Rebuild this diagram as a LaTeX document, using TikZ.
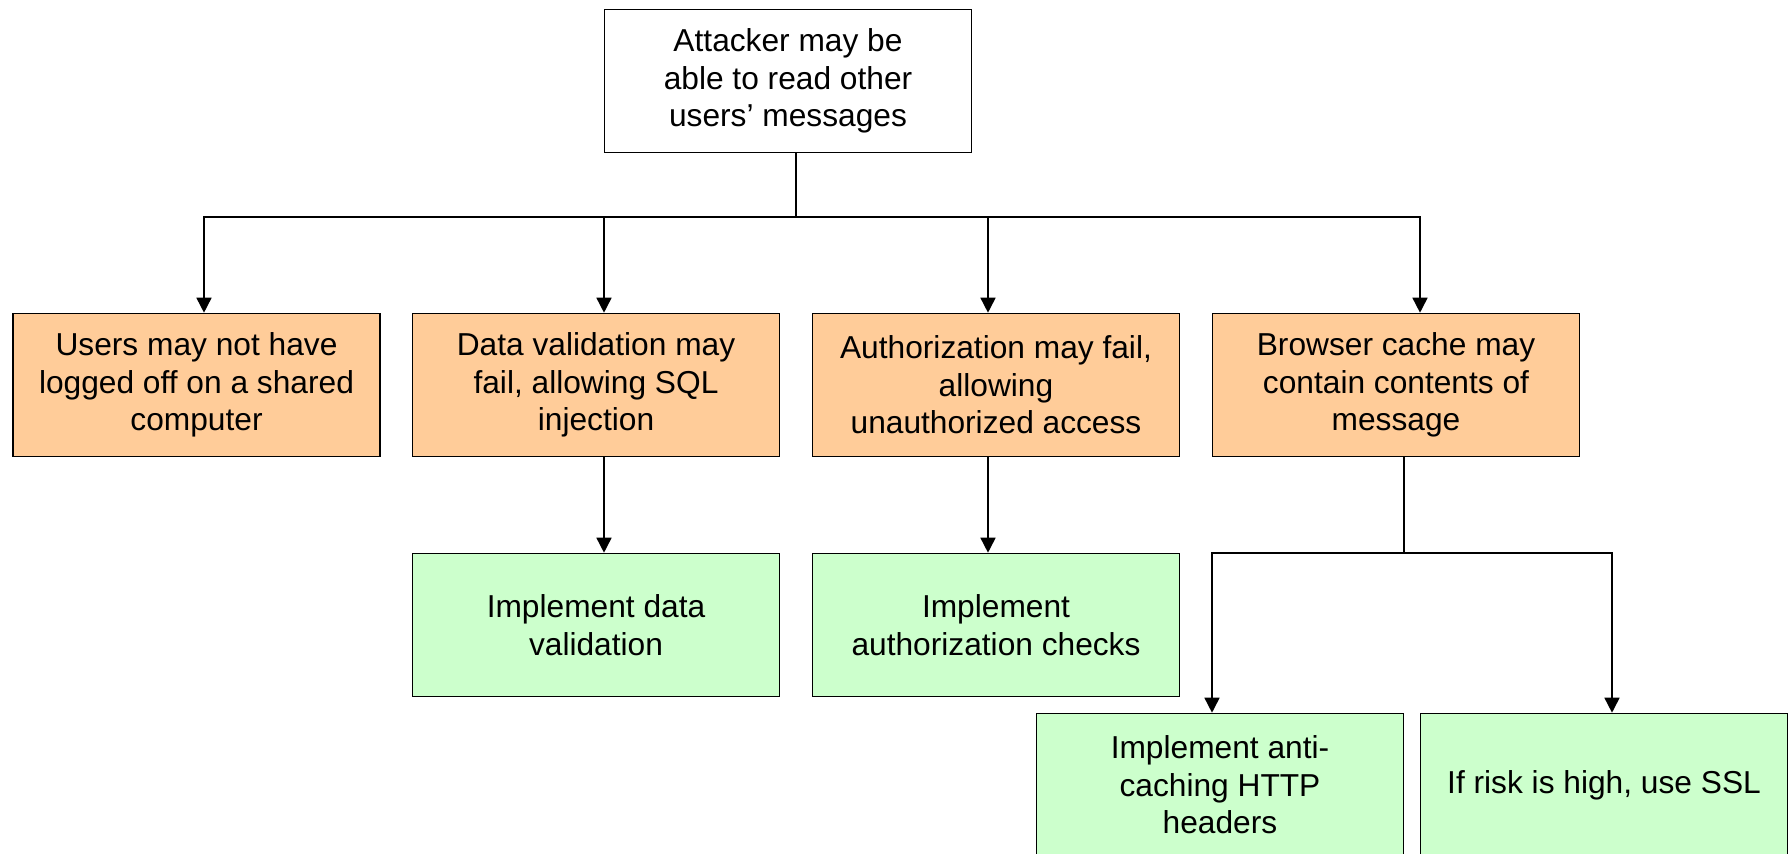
\documentclass[tikz,border=0pt]{standalone}
\usepackage{fontspec}
\setmainfont{Liberation Sans}
\usetikzlibrary{arrows.meta,calc}
\definecolor{riskfill}{HTML}{FFCC99}
\definecolor{fixfill}{HTML}{CCFFCC}
\begin{document}
\begin{tikzpicture}[x=1bp,y=-1bp,
  box/.style={draw=black,line width=1.6bp,minimum width=367bp,minimum height=143bp,inner sep=0pt,align=center,font=\fontsize{31.7bp}{37.5bp}\selectfont},
  goalbox/.style={box,fill=white},
  risk/.style={box,fill=riskfill},
  fix/.style={box,fill=fixfill},
  link/.style={line width=1.6bp,line cap=rect},
  arr/.style={line width=1.6bp,-{Triangle[length=15bp,width=15bp]}}]
\useasboundingbox (0,0) rectangle (1790,854);
% nodes
\node[goalbox] (top) at (788,81) {Attacker may be\\able to read other\\users’ messages};
\node[risk] (b1) at (196.5,385) {Users may not have\\logged off on a shared\\computer};
\node[risk] (b2) at (596,385) {Data validation may\\fail, allowing SQL\\injection};
\node[risk] (b3) at (996,385) {Authorization may fail,\\allowing\\unauthorized access};
\node[risk] (b4) at (1396,385) {Browser cache may\\contain contents of\\message};
\node[fix] (fa) at (596,625) {Implement data\\validation};
\node[fix] (fb) at (996,625) {Implement\\authorization checks};
\node[fix] (fc) at (1220,785) {Implement anti-\\caching HTTP\\headers};
\node[fix] (fd) at (1604,785) {If risk is high, use SSL};
% connector points
\coordinate (ts) at (796,217);
\coordinate (a1) at (204,217);
\coordinate (a2) at (604,217);
\coordinate (a3) at (988,217);
\coordinate (a4) at (1420,217);
\coordinate (s4) at (1404,553);
\coordinate (c1) at (1212,553);
\coordinate (c2) at (1612,553);
% connectors
\draw[link] (top.south -| ts) -- (ts);
\draw[link] (a1) -- (a4);
\draw[arr] (a1) -- (a1 |- b1.north);
\draw[arr] (a2) -- (a2 |- b2.north);
\draw[arr] (a3) -- (a3 |- b3.north);
\draw[arr] (a4) -- (a4 |- b4.north);
\draw[arr] (b2.south -| a2) -- (a2 |- fa.north);
\draw[arr] (b3.south -| a3) -- (a3 |- fb.north);
\draw[link] (b4.south -| s4) -- (s4);
\draw[link] (c1) -- (c2);
\draw[arr] (c1) -- (c1 |- fc.north);
\draw[arr] (c2) -- (c2 |- fd.north);
\end{tikzpicture}
\end{document}
